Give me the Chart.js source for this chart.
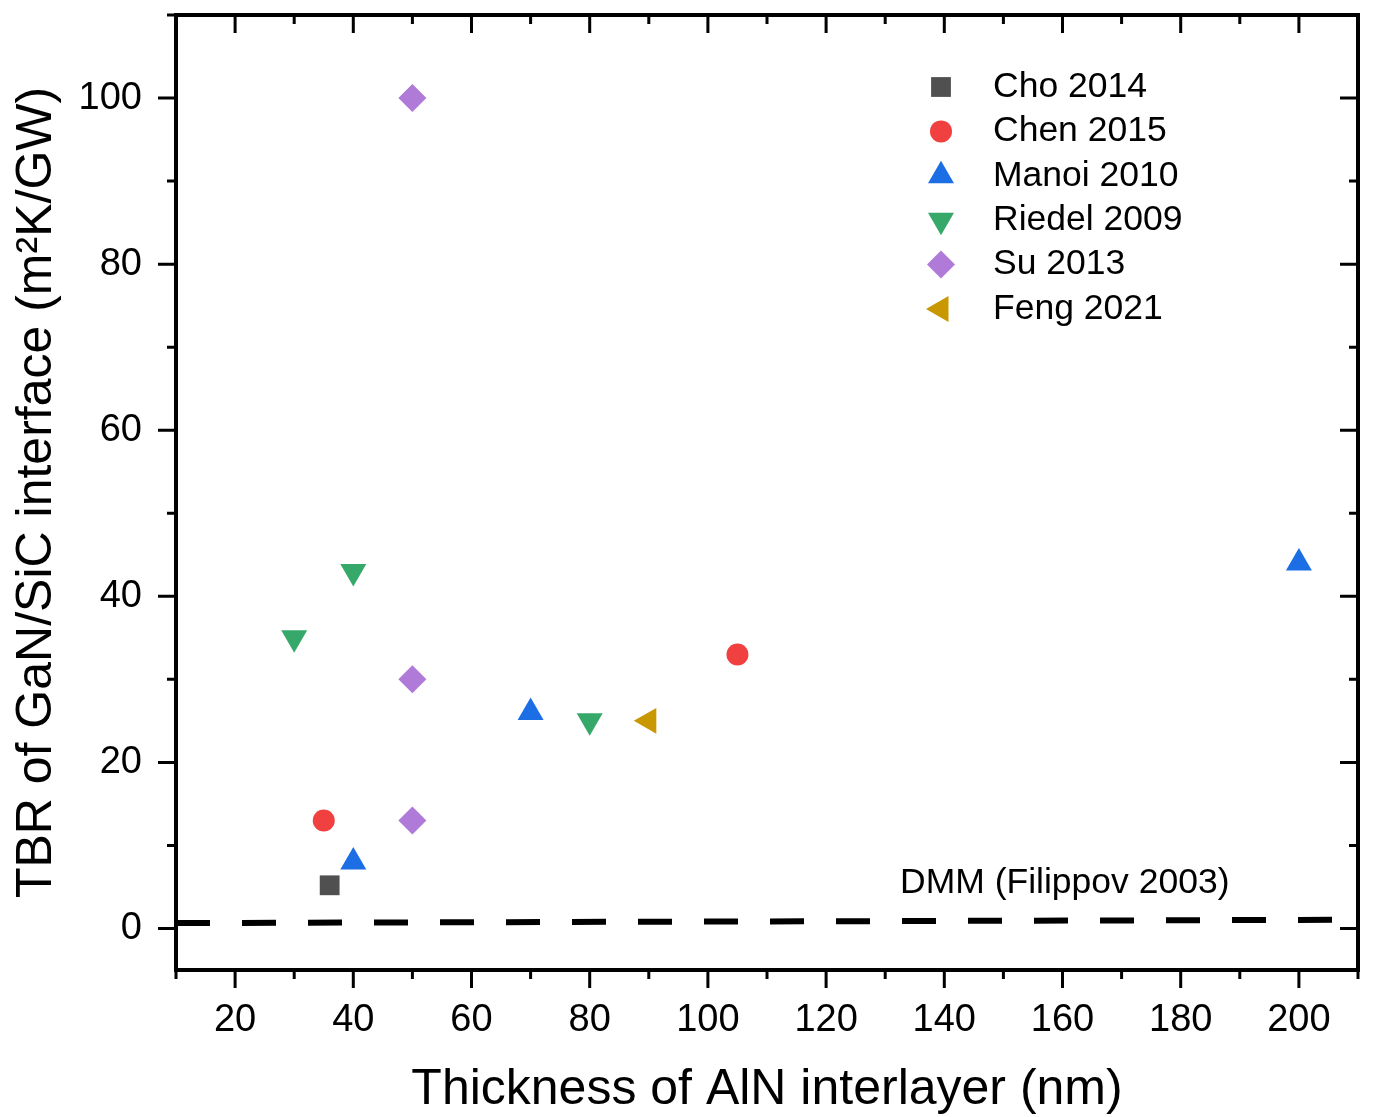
<!DOCTYPE html>
<html>
<head>
<meta charset="utf-8">
<script src="https://cdn.jsdelivr.net/npm/chart.js@4/dist/chart.umd.min.js"></script>
<style>
  html, body { margin: 0; padding: 0; background: #fff; }
  #wrap { width: 1373px; height: 1117px; }
</style>
</head>
<body>
<div id="wrap"><canvas id="c"></canvas></div>
<script>
const FONT = "'Liberation Sans', Arial, sans-serif"

// data
const choX = [36], choY = [5.2]
const chenX = [35, 105], chenY = [13, 33]
const manoiX = [40, 70, 200], manoiY = [8, 26, 44]
const riedelX = [30, 40, 80], riedelY = [35, 43, 25]
const suX = [50, 50, 50], suY = [100, 30, 13]
const fengX = [90], fengY = [25]
const dmmX = [10, 210], dmmY = [0.65, 1.05]

const xMajor = [20, 40, 60, 80, 100, 120, 140, 160, 180, 200]
const xMinor = [10, 30, 50, 70, 90, 110, 130, 150, 170, 190, 210]
const yMajor = [0, 20, 40, 60, 80, 100]
const yMinor = [10, 30, 50, 70, 90, 110]

const pts = (xs, ys) => xs.map((x, i) => ({ x, y: ys[i] }))

const series = [
  { label: 'Cho 2014', xs: choX, ys: choY, color: '#505050', style: 'rect', r: 14, rot: 0 },
  { label: 'Chen 2015', xs: chenX, ys: chenY, color: '#f04040', style: 'circle', r: 11, rot: 0 },
  { label: 'Manoi 2010', xs: manoiX, ys: manoiY, color: '#1c6ee4', style: 'triangle', r: 15, rot: 0 },
  { label: 'Riedel 2009', xs: riedelX, ys: riedelY, color: '#35a86a', style: 'triangle', r: 15, rot: 180 },
  { label: 'Su 2013', xs: suX, ys: suY, color: '#b07ad9', style: 'rectRot', r: 14, rot: 0 },
  { label: 'Feng 2021', xs: fengX, ys: fengY, color: '#c99700', style: 'triangle', r: 15, rot: 270 },
]

const datasets = series.map(s => ({
  type: 'scatter',
  label: s.label,
  data: pts(s.xs, s.ys),
  backgroundColor: s.color,
  borderWidth: 0,
  pointStyle: s.style,
  pointRadius: s.r,
  pointHoverRadius: s.r,
  rotation: s.rot,
}))

datasets.unshift({
  type: 'line',
  label: 'DMM',
  data: pts(dmmX, dmmY),
  borderColor: '#000',
  borderWidth: 6,
  borderDash: [34, 32],
  borderCapStyle: 'butt',
  pointRadius: 0,
  fill: false,
})

const framePlugin = {
  id: 'frame',
  afterDraw(chart) {
    const { ctx, chartArea: a, scales: { x, y } } = chart
    ctx.save()
    ctx.strokeStyle = '#000'
    ctx.lineWidth = 3
    ctx.lineCap = 'butt'
    const tick = (vals, len) => {
      vals.forEach(v => {
        const px = x.getPixelForValue(v)
        ctx.beginPath()
        ctx.moveTo(px, a.bottom); ctx.lineTo(px, a.bottom + len)
        ctx.moveTo(px, a.top); ctx.lineTo(px, a.top + len)
        ctx.stroke()
      })
    }
    const ytick = (vals, len) => {
      vals.forEach(v => {
        const py = y.getPixelForValue(v)
        ctx.beginPath()
        ctx.moveTo(a.left, py); ctx.lineTo(a.left - len, py)
        ctx.moveTo(a.right, py); ctx.lineTo(a.right - len, py)
        ctx.stroke()
      })
    }
    tick(xMajor, 18); tick(xMinor, 9)
    ytick(yMajor, 18); ytick(yMinor, 9)

    ctx.lineWidth = 4
    ctx.strokeRect(a.left, a.top, a.right - a.left, a.bottom - a.top)

    // legend
    ctx.font = '35.5px ' + FONT
    ctx.textBaseline = 'middle'
    ctx.textAlign = 'left'
    series.forEach((s, i) => {
      const ly = 87 + i * 44.4
      ctx.fillStyle = s.color
      Chart.helpers.drawPoint(ctx, { pointStyle: s.style, radius: s.r, rotation: s.rot, borderWidth: 0 }, 941, ly)
      ctx.fillStyle = '#000'
      ctx.fillText(s.label, 993, ly)
    })

    ctx.fillText('DMM (Filippov 2003)', 900, 883)
    ctx.restore()
  }
}

new Chart(document.getElementById('c'), {
  data: { datasets },
  options: {
    responsive: true,
    maintainAspectRatio: false,
    animation: false,
    layout: { padding: { top: 14, right: 11, left: 0, bottom: 0 } },
    plugins: { legend: { display: false }, tooltip: { enabled: false } },
    scales: {
      x: {
        type: 'linear',
        min: 10, max: 210,
        afterBuildTicks: s => { s.ticks = xMajor.map(v => ({ value: v })) },
        afterFit: s => { s.height = 147; s.paddingLeft = 0; s.paddingRight = 0 },
        grid: { display: false },
        border: { display: false },
        ticks: { padding: 20, color: '#000', font: { family: FONT, size: 38 } },
        title: {
          display: true, text: 'Thickness of AlN interlayer (nm)', color: '#000',
          font: { family: FONT, size: 50 }, padding: { top: 0, bottom: -3 },
        },
      },
      y: {
        type: 'linear',
        min: -5, max: 110,
        afterBuildTicks: s => { s.ticks = yMajor.map(v => ({ value: v })) },
        afterFit: s => { s.width = 176; s.paddingTop = 0; s.paddingBottom = 0 },
        grid: { display: false },
        border: { display: false },
        ticks: { padding: 26, color: '#000', font: { family: FONT, size: 38 } },
        title: {
          display: true, text: 'TBR of GaN/SiC interface (m²K/GW)', color: '#000',
          font: { family: FONT, size: 50 }, padding: { top: 7, bottom: 0 },
        },
      },
    },
  },
  plugins: [framePlugin],
})
</script>
</body>
</html>
